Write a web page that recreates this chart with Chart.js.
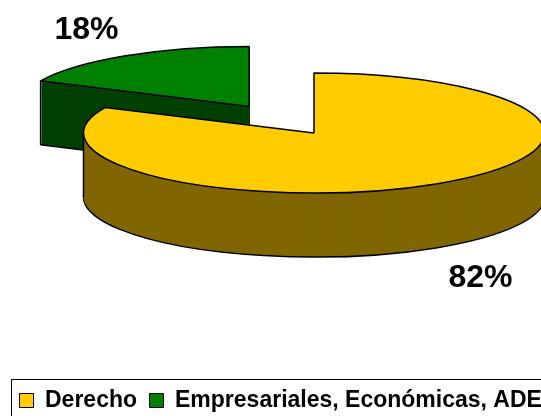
<!DOCTYPE html>
<html>
<head>
<meta charset="utf-8">
<script src="https://cdn.jsdelivr.net/npm/chart.js@4/dist/chart.umd.min.js"></script>
<style>
html, body { margin: 0; padding: 0; background: #fff; overflow: hidden; }
#marco { width: 541px; height: 416px; overflow: hidden; }
canvas { display: block; }
</style>
</head>
<body>
<div id="marco"><canvas id="tarta" width="620" height="440"></canvas></div>
<script>
// datos
var categorias = ["Derecho", "Empresariales, Económicas, ADE"];
var valores = [82, 18];
var colores = ["#FFCC00", "#008000"];
var coloresLado = ["#806600", "#004000"];
var separacion = [0, 484]; // chart.js aplica offset / 4

// geometria del pastel
var centroX = 314, centroY = 133;
var radio = 230.5, aplastado = 60 / 230.5, grosor = 64;
var linea = 1.5;

/**
 * Dibuja una porción con la transformación del pastel aplastado
 */
function pintaArco(ctx, arco, y, relleno, borde, ancho) {
    var original = arco.options;
    var circunf = arco.circumference;
    // con un cuarto de vuelta chart.js no agranda el radio de la porción separada
    arco.circumference = Math.PI / 2;
    arco.options = Object.assign({}, original, {
        backgroundColor: relleno,
        borderColor: borde,
        borderWidth: ancho
    });
    ctx.save();
    ctx.translate(centroX, y);
    ctx.scale(1, aplastado);
    ctx.translate(-arco.x, -arco.y);
    arco.draw(ctx);
    ctx.restore();
    arco.options = original;
    arco.circumference = circunf;
}

function bordeVertical(ctx, arco, angulo) {
    var medio = (arco.startAngle + arco.endAngle) / 2;
    var despl = arco.options.offset / 4;
    var x = centroX + Math.cos(medio) * despl + Math.cos(angulo) * arco.outerRadius;
    var y = centroY + (Math.sin(medio) * despl + Math.sin(angulo) * arco.outerRadius) * aplastado;
    ctx.beginPath();
    ctx.moveTo(x, y);
    ctx.lineTo(x, y + grosor);
    ctx.strokeStyle = "#000";
    ctx.lineWidth = linea;
    ctx.stroke();
}

var pastel3d = {
    id: "pastel3d",
    beforeDatasetsDraw: function (chart) {
        var ctx = chart.ctx;
        var arcos = chart.getDatasetMeta(0).data;
        // el trazo se hace sin la escala para que la línea no quede fina
        var trazo = ctx.stroke;
        ctx.stroke = function () {
            ctx.save();
            ctx.setTransform(1, 0, 0, 1, 0, 0);
            trazo.call(ctx);
            ctx.restore();
        };
        // primero la porción separada, que queda detrás
        [1, 0].forEach(function (i) {
            var arco = arcos[i];
            pintaArco(ctx, arco, centroY + grosor, coloresLado[i], "#000", linea);
            for (var d = grosor - 1; d > 0; d--) {
                pintaArco(ctx, arco, centroY + d, coloresLado[i], coloresLado[i], 0);
            }
            if (i === 1) {
                bordeVertical(ctx, arco, arco.startAngle);
            } else {
                bordeVertical(ctx, arco, Math.PI);
                bordeVertical(ctx, arco, 0);
            }
            pintaArco(ctx, arco, centroY, colores[i], "#000", linea);
        });
        delete ctx.stroke;
        return false;
    },
    afterDraw: function (chart) {
        var ctx = chart.ctx;
        var total = valores[0] + valores[1];
        ctx.save();
        ctx.strokeStyle = "#000";
        ctx.lineWidth = 1;
        ctx.strokeRect(11.5, 379.5, 700, 100);
        ctx.fillStyle = "#000";
        ctx.font = "bold 32px 'Liberation Sans', Arial, sans-serif";
        ctx.textAlign = "center";
        ctx.textBaseline = "middle";
        ctx.fillText(Math.round(valores[0] / total * 100) + "%", 480.5, 278);
        ctx.fillText(Math.round(valores[1] / total * 100) + "%", 86.5, 30);
        ctx.restore();
    }
};

var datos = {
    labels: categorias,
    datasets: [{
        data: valores,
        backgroundColor: colores,
        borderColor: "#000",
        borderWidth: 1,
        offset: separacion,
        radius: radio,
        cutout: "0%",
        clip: false
    }]
};

var config = {
    type: "pie",
    data: datos,
    plugins: [pastel3d],
    options: {
        responsive: false,
        animation: false,
        layout: { padding: { left: 7, right: 0, top: 0, bottom: 18 } },
        plugins: {
            tooltip: { enabled: false },
            legend: {
                position: "bottom",
                align: "start",
                labels: {
                    boxWidth: 14,
                    boxHeight: 14,
                    padding: 12.5,
                    color: "#000",
                    font: { family: "'Liberation Sans', Arial, sans-serif", size: 23, weight: "bold" }
                }
            }
        }
    }
};

new Chart(document.getElementById("tarta").getContext("2d"), config);
</script>
</body>
</html>
